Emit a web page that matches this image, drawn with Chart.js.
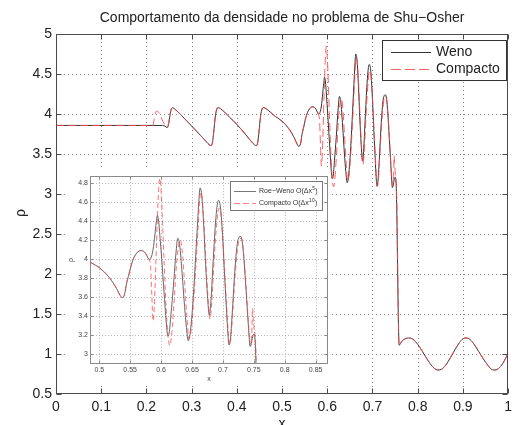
<!DOCTYPE html>
<html><head><meta charset="utf-8">
<script src="https://cdn.jsdelivr.net/npm/chart.js@4"></script>
<style>
html,body{margin:0;padding:0;background:#fff;}
#wrap{position:relative;width:517px;height:425px;overflow:hidden;}
#main{position:absolute;left:0;top:0;}
#inset{position:absolute;left:66px;top:170px;}
</style></head><body>
<div id="wrap"><canvas id="main" width="517" height="425"></canvas><canvas id="inset" width="264" height="214"></canvas></div>
<script>
// ---------- data ----------
const titleText = 'Comportamento da densidade no problema de Shu\u2212Osher';
const seriesNames = ['Weno', 'Compacto'];
const insetNames = ['Roe\u2212Weno O(\u0394x', 'Compacto O(\u0394x'];
const insetOrders = ['5', '10'];

const mainXTicks = [0,0.1,0.2,0.3,0.4,0.5,0.6,0.7,0.8,0.9,1];
const mainXLabels = ['0','0.1','0.2','0.3','0.4','0.5','0.6','0.7','0.8','0.9','1'];
const mainYTicks = [0.5,1,1.5,2,2.5,3,3.5,4,4.5,5];
const mainYLabels = ['0.5','1','1.5','2','2.5','3','3.5','4','4.5','5'];
const insetXTicks = [0.5,0.55,0.6,0.65,0.7,0.75,0.8,0.85];
const insetXLabels = ['0.5','0.55','0.6','0.65','0.7','0.75','0.8','0.85'];
const insetYTicks = [3,3.2,3.4,3.6,3.8,4,4.2,4.4,4.6,4.8];
const insetYLabels = ['3','3.2','3.4','3.6','3.8','4','4.2','4.4','4.6','4.8'];

// common entropy-wave part (x 0.265 .. 0.575)
const waveX = [0.263,0.283,0.300,0.320,0.333,0.339,0.343,0.346,0.349,0.352,0.355,0.359,0.364,0.384,0.400,0.420,0.433,0.439,0.443,0.446,0.449,0.452,0.455,0.459,0.465,0.485,0.500,0.517,0.528,0.534,0.537,0.541,0.544,0.548,0.551,0.555,0.558,0.563,0.567,0.571,0.575];
const waveY = [4.06,3.95,3.85,3.73,3.65,3.615,3.605,3.64,3.78,3.95,4.05,4.08,4.065,3.96,3.87,3.74,3.65,3.615,3.605,3.64,3.78,3.95,4.05,4.08,4.065,3.97,3.91,3.80,3.69,3.615,3.595,3.63,3.74,3.84,3.92,4.00,4.04,4.08,4.09,4.085,4.06];

// post-shock part (x 0.759 .. 1)
const tailX = [0.759,0.765,0.772,0.780,0.788,0.796,0.805,0.815,0.825,0.835,0.845,0.853,0.862,0.872,0.882,0.892,0.900,0.908,0.916,0.925,0.935,0.945,0.955,0.963,0.971,0.979,0.988,1.000];
const tailY = [1.11,1.16,1.19,1.20,1.19,1.15,1.08,0.99,0.90,0.83,0.80,0.81,0.86,0.95,1.05,1.14,1.19,1.20,1.18,1.12,1.03,0.94,0.86,0.81,0.80,0.82,0.88,1.01];

// Weno specific parts
const wenoHeadX = [0,0.236,0.241,0.246,0.249,0.252,0.255,0.258];
const wenoHeadY = [3.857,3.857,3.848,3.83,3.87,3.98,4.06,4.078];
const wenoMidX = [0.579,0.581,0.584,0.587,0.590,0.592,0.594,0.596,0.598,0.601,0.604,0.607,0.609,0.611,0.613,0.616,0.620,0.624,0.627,0.630,0.634,0.638,0.641,0.644,0.647,0.651,0.655,0.659,0.661,0.663,0.666,0.669,0.672,0.675,0.678,0.681,0.684,0.688,0.691,0.693,0.696,0.699,0.702,0.706,0.708,0.710,0.712,0.715,0.719,0.723,0.726,0.728,0.731,0.734,0.737,0.740,0.742,0.744,0.746,0.748,0.750,0.7525];
const wenoMidY = [4.01,3.995,4.02,4.10,4.26,4.38,4.46,4.40,4.25,4.00,3.72,3.45,3.28,3.19,3.22,3.42,3.72,4.06,4.22,4.15,3.85,3.50,3.28,3.14,3.22,3.50,3.92,4.38,4.60,4.75,4.66,4.35,3.95,3.62,3.41,3.60,3.95,4.38,4.58,4.62,4.55,4.30,3.92,3.44,3.22,3.095,3.15,3.42,3.85,4.15,4.23,4.24,4.20,4.00,3.72,3.42,3.22,3.08,3.11,3.18,3.21,3.10];

// Compacto specific parts
const compHeadX = [0,0.214,0.217,0.220,0.223,0.227,0.233,0.240,0.245,0.248,0.251,0.254,0.258];
const compHeadY = [3.857,3.857,3.93,4.01,4.04,4.02,3.95,3.87,3.835,3.86,3.96,4.05,4.078];
const compMidX = [0.578,0.581,0.583,0.585,0.587,0.589,0.591,0.593,0.595,0.597,0.598,0.600,0.602,0.605,0.608,0.611,0.614,0.617,0.621,0.625,0.629,0.631,0.634,0.638,0.642,0.645,0.648,0.652,0.656,0.660,0.662,0.664,0.667,0.670,0.673,0.676,0.679,0.682,0.685,0.689,0.692,0.694,0.697,0.700,0.703,0.707,0.709,0.711,0.713,0.716,0.720,0.724,0.727,0.729,0.732,0.735,0.738,0.741,0.743,0.745,0.7465,0.748,0.749,0.7505,0.752,0.7535];
const compMidY = [4.03,3.99,3.92,3.62,3.35,3.50,3.85,4.25,4.60,4.82,4.85,4.72,4.45,3.95,3.50,3.20,3.09,3.20,3.55,3.95,4.17,4.20,4.10,3.75,3.38,3.16,3.22,3.50,3.90,4.35,4.58,4.70,4.60,4.30,3.90,3.58,3.37,3.55,3.90,4.30,4.50,4.54,4.45,4.20,3.85,3.40,3.20,3.10,3.17,3.45,3.85,4.12,4.21,4.22,4.15,3.95,3.65,3.35,3.18,3.10,3.20,3.48,3.38,3.26,3.20,3.00];

function pts(xs, ys){ return xs.map((x,i)=>({x:x, y:ys[i]})); }
const wenoPts = [].concat(pts(wenoHeadX,wenoHeadY), pts(waveX,waveY), pts(wenoMidX,wenoMidY), pts(tailX,tailY));
const compPts = [].concat(pts(compHeadX,compHeadY), pts(waveX,waveY), pts(compMidX,compMidY), pts(tailX,tailY));

// ---------- styling ----------
const FONT = 'Liberation Sans, Arial, Helvetica, sans-serif';
const WENO_COLOR = '#333333';
const COMP_COLOR = 'rgba(255,70,70,0.85)';

function setTicks(values){ return function(axis){ axis.ticks = values.map(v=>({value:v})); }; }

function drawFrameAndTicks(ctx, a, xs, ys, xt, yt, tickLen, color){
  const L = Math.round(a.left)+0.5, R = Math.round(a.right)-0.5, T = Math.round(a.top)+0.5, B = Math.round(a.bottom)-0.5;
  ctx.save();
  ctx.strokeStyle = color; ctx.lineWidth = 1; ctx.setLineDash([]);
  ctx.beginPath();
  xt.forEach(v=>{ const p = Math.round(xs.getPixelForValue(v))+0.5; ctx.moveTo(p,B); ctx.lineTo(p,B-tickLen); ctx.moveTo(p,T); ctx.lineTo(p,T+tickLen); });
  yt.forEach(v=>{ const p = Math.round(ys.getPixelForValue(v))+0.5; ctx.moveTo(L,p); ctx.lineTo(L+tickLen,p); ctx.moveTo(R,p); ctx.lineTo(R-tickLen,p); });
  ctx.stroke();
  ctx.strokeRect(L,T,R-L,B-T);
  ctx.restore();
}
function drawGrid(ctx, a, xs, ys, xt, yt, color, dash){
  ctx.save();
  ctx.strokeStyle = color; ctx.lineWidth = 1; ctx.setLineDash(dash);
  ctx.beginPath();
  xt.forEach(v=>{ const p = Math.round(xs.getPixelForValue(v))+0.5; if (p < a.left+2 || p > a.right-2) return; ctx.moveTo(p,a.top); ctx.lineTo(p,a.bottom); });
  yt.forEach(v=>{ const p = Math.round(ys.getPixelForValue(v))+0.5; if (p < a.top+2 || p > a.bottom-2) return; ctx.moveTo(a.left,p); ctx.lineTo(a.right,p); });
  ctx.stroke();
  ctx.restore();
}

const mainDecor = {
  id:'mainDecor',
  beforeDatasetsDraw(chart){
    const {ctx, chartArea:a, scales} = chart;
    drawGrid(ctx, a, scales.x, scales.y, mainXTicks, mainYTicks, '#8a8a8a', [1,3]);
  },
  afterDatasetsDraw(chart){
    const {ctx, chartArea:a, scales} = chart;
    drawFrameAndTicks(ctx, a, scales.x, scales.y, mainXTicks, mainYTicks, 5, '#4a4a4a');
    // legend
    ctx.save();
    ctx.fillStyle = '#fff'; ctx.fillRect(382.5,40.5,124,40);
    ctx.strokeStyle = '#333'; ctx.lineWidth = 1; ctx.strokeRect(382.5,40.5,124,40);
    ctx.lineWidth = 1;
    ctx.strokeStyle = WENO_COLOR; ctx.beginPath(); ctx.moveTo(391,52.5); ctx.lineTo(431,52.5); ctx.stroke();
    ctx.strokeStyle = COMP_COLOR; ctx.setLineDash([10,4]); ctx.beginPath(); ctx.moveTo(391,69.5); ctx.lineTo(431,69.5); ctx.stroke();
    ctx.setLineDash([]);
    ctx.fillStyle = '#222'; ctx.font = '14px ' + FONT; ctx.textAlign = 'left'; ctx.textBaseline = 'middle';
    ctx.fillText(seriesNames[0], 436, 52);
    ctx.fillText(seriesNames[1], 436, 69.5);
    ctx.restore();
  },
  afterDraw(chart){
    const {ctx, chartArea:a} = chart;
    ctx.save();
    ctx.fillStyle = '#222'; ctx.font = '14px ' + FONT;
    ctx.textAlign = 'center'; ctx.textBaseline = 'middle';
    ctx.fillText(titleText, (a.left+a.right)/2, 18);
    ctx.textBaseline = 'alphabetic';
    ctx.fillText('x', (a.left+a.right)/2, 428);
    ctx.translate(21, 213); ctx.rotate(-Math.PI/2);
    ctx.textBaseline = 'middle';
    ctx.fillText('\u03c1', 0, 0);
    ctx.restore();
  }
};

new Chart(document.getElementById('main'), {
  type:'line',
  data:{ datasets:[
    {label:seriesNames[0], data:wenoPts, borderColor:WENO_COLOR, borderWidth:1, pointRadius:0, fill:false, cubicInterpolationMode:'monotone', order:2},
    {label:seriesNames[1], data:compPts, borderColor:COMP_COLOR, borderWidth:1, borderDash:[8,4], pointRadius:0, fill:false, cubicInterpolationMode:'monotone', order:1}
  ]},
  options:{
    responsive:false, animation:false, parsing:true,
    layout:{padding:{left:0, right:4, top:34, bottom:0}},
    plugins:{legend:{display:false}, tooltip:{enabled:false}, title:{display:false}},
    scales:{
      x:{type:'linear', min:0, max:1, afterBuildTicks:setTicks(mainXTicks),
         afterFit(s){ s.height = 31; },
         grid:{display:false, drawTicks:false}, border:{display:false},
         ticks:{autoSkip:false, maxRotation:0, minRotation:0, padding:5, color:'#222', font:{family:FONT, size:14},
                callback:(v,i)=>mainXLabels[i]}},
      y:{type:'linear', min:0.5, max:5, afterBuildTicks:setTicks(mainYTicks),
         afterFit(s){ s.width = 56; },
         grid:{display:false, drawTicks:false}, border:{display:false},
         ticks:{autoSkip:false, padding:4, color:'#222', font:{family:FONT, size:14},
                callback:(v,i)=>mainYLabels[i]}}
    }
  },
  plugins:[mainDecor]
});

// ---------- inset ----------
const insetDecor = {
  id:'insetDecor',
  beforeDraw(chart){
    const ctx = chart.ctx; ctx.save(); ctx.fillStyle = '#fff'; ctx.fillRect(0,0,chart.width,chart.height); ctx.restore();
  },
  beforeDatasetsDraw(chart){
    const {ctx, chartArea:a, scales} = chart;
    drawGrid(ctx, a, scales.x, scales.y, insetXTicks, insetYTicks, '#b5b5b5', [1,2]);
  },
  afterDatasetsDraw(chart){
    const {ctx, chartArea:a, scales} = chart;
    drawFrameAndTicks(ctx, a, scales.x, scales.y, insetXTicks, insetYTicks, 3, '#8a8a8a');
    // legend (canvas offset 66,170)
    ctx.save();
    ctx.fillStyle = '#fff'; ctx.fillRect(164.5,11.5,92,29);
    ctx.strokeStyle = '#777'; ctx.lineWidth = 1; ctx.strokeRect(164.5,11.5,92,29);
    ctx.strokeStyle = '#555'; ctx.lineWidth = 0.8;
    ctx.beginPath(); ctx.moveTo(168,21.5); ctx.lineTo(190,21.5); ctx.stroke();
    ctx.strokeStyle = COMP_COLOR; ctx.setLineDash([6,3]);
    ctx.beginPath(); ctx.moveTo(168,33.5); ctx.lineTo(190,33.5); ctx.stroke();
    ctx.setLineDash([]);
    ctx.fillStyle = '#333'; ctx.textAlign = 'left'; ctx.textBaseline = 'middle';
    [21.5, 33.5].forEach((yy,i)=>{
      ctx.font = '7px ' + FONT;
      let xx = 193;
      ctx.fillText(insetNames[i], xx, yy); xx += ctx.measureText(insetNames[i]).width;
      ctx.font = '5px ' + FONT;
      ctx.fillText(insetOrders[i], xx+0.3, yy-3); xx += ctx.measureText(insetOrders[i]).width + 0.6;
      ctx.font = '7px ' + FONT;
      ctx.fillText(')', xx, yy);
    });
    ctx.restore();
  },
  afterDraw(chart){
    const {ctx, chartArea:a} = chart;
    ctx.save();
    ctx.fillStyle = '#444'; ctx.font = '7px ' + FONT; ctx.textAlign = 'center'; ctx.textBaseline = 'middle';
    ctx.fillText('x', (a.left+a.right)/2, 209);
    ctx.translate(5.5, 90); ctx.rotate(-Math.PI/2);
    ctx.fillText('\u03c1', 0, 0);
    ctx.restore();
  }
};

new Chart(document.getElementById('inset'), {
  type:'line',
  data:{ datasets:[
    {label:'Roe-Weno', data:wenoPts, borderColor:'#555555', borderWidth:0.9, pointRadius:0, fill:false, cubicInterpolationMode:'monotone', order:2},
    {label:'Compacto', data:compPts, borderColor:COMP_COLOR, borderWidth:0.9, borderDash:[5,3], pointRadius:0, fill:false, cubicInterpolationMode:'monotone', order:1}
  ]},
  options:{
    responsive:false, animation:false,
    layout:{padding:{left:0, right:2, top:6, bottom:0}},
    plugins:{legend:{display:false}, tooltip:{enabled:false}, title:{display:false}},
    scales:{
      x:{type:'linear', min:0.485, max:0.87, afterBuildTicks:setTicks(insetXTicks),
         afterFit(s){ s.height = 20; },
         grid:{display:false, drawTicks:false}, border:{display:false},
         ticks:{autoSkip:false, maxRotation:0, minRotation:0, padding:2, color:'#444', font:{family:FONT, size:7},
                callback:(v,i)=>insetXLabels[i]}},
      y:{type:'linear', min:2.895, max:4.874, afterBuildTicks:setTicks(insetYTicks),
         afterFit(s){ s.width = 24; },
         grid:{display:false, drawTicks:false}, border:{display:false},
         ticks:{autoSkip:false, padding:2, color:'#444', font:{family:FONT, size:7},
                callback:(v,i)=>insetYLabels[i]}}
    }
  },
  plugins:[insetDecor]
});
</script>
</body></html>
